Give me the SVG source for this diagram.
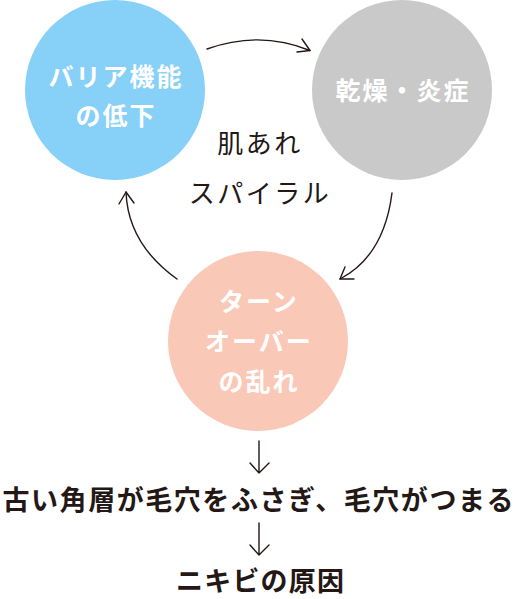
<svg xmlns="http://www.w3.org/2000/svg" width="520" height="599" viewBox="0 0 520 599">
<style>
.w{fill:#fff;font-family:"Noto Sans CJK JP","Noto Sans",sans-serif;font-weight:700;font-size:25px;letter-spacing:2px;text-anchor:middle}
.c{fill:#231815;font-family:"Noto Sans CJK JP","Noto Sans",sans-serif;font-weight:400;font-size:26px;letter-spacing:2.5px;text-anchor:middle}
.b{fill:#231815;font-family:"Noto Sans CJK JP","Noto Sans",sans-serif;font-weight:700;font-size:27px;text-anchor:middle}
.ln{fill:none;stroke:#231815;stroke-width:1.4;stroke-linecap:round;stroke-linejoin:round}
</style>
<rect width="520" height="599" fill="#fff"/>
<g id="node-barrier">
<circle cx="115" cy="90" r="90" fill="#87d0f7"/>
<text class="w" x="116" y="86">バリア機能</text>
<text class="w" x="116" y="125">の低下</text>
</g>
<g id="node-dry">
<circle cx="402" cy="90" r="90" fill="#c9c9c9"/>
<text class="w" x="403" y="100">乾燥・炎症</text>
</g>
<g id="node-turnover">
<circle cx="258" cy="341" r="90" fill="#f9c8b6"/>
<text class="w" x="259" y="311">ターン</text>
<text class="w" x="259" y="351">オーバー</text>
<text class="w" x="259" y="391">の乱れ</text>
</g>
<g id="center-label">
<text class="c" x="260" y="153">肌あれ</text>
<text class="c" x="260" y="203">スパイラル</text>
</g>
<g id="node-pore">
<text class="b" x="258" y="510" textLength="511" lengthAdjust="spacing">古い角層が毛穴をふさぎ、毛穴がつまる</text>
</g>
<g id="node-acne">
<text class="b" x="260" y="591" textLength="168" lengthAdjust="spacing">ニキビの原因</text>
</g>
<g id="connectors">
<path class="ln" d="M207 49 Q260 30 310 50.5"/>
<path class="ln" d="M302 39 L310 50.5 L297 52"/>
<path class="ln" d="M392 193 Q384 256 340 279"/>
<path class="ln" d="M345 267 L340 279 L354 279"/>
<path class="ln" d="M177 279 Q128 244 126 192"/>
<path class="ln" d="M119 204 L126 192 L134 203"/>
<path class="ln" d="M259 441 V473 M250 463 L259 473 L269 463"/>
<path class="ln" d="M259 523 V555 M250 545 L259 555 L269 545"/>
</g>
</svg>
